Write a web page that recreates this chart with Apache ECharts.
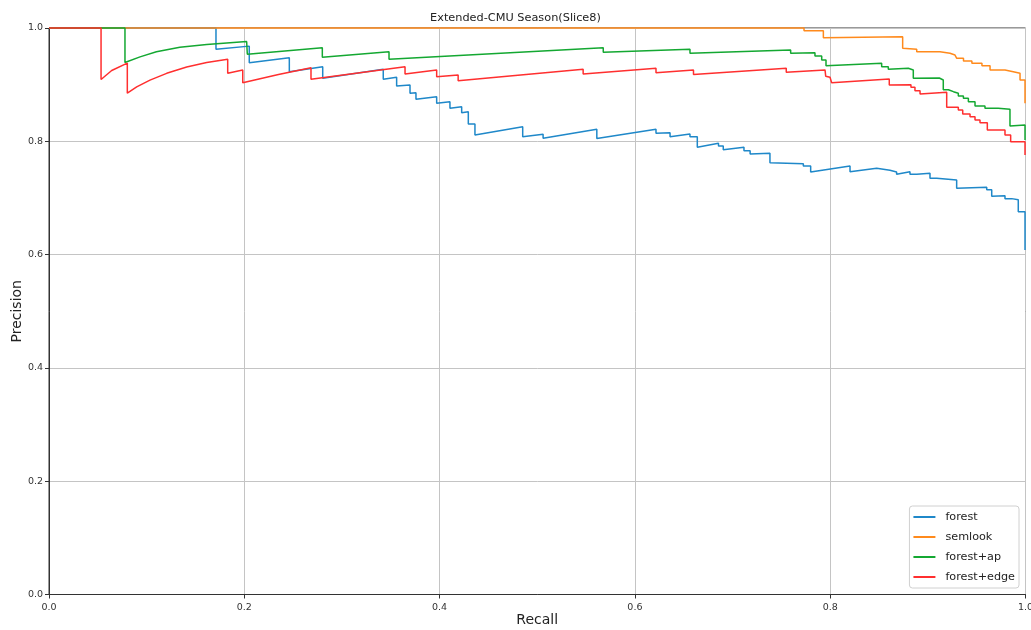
<!DOCTYPE html>
<html>
<head>
<meta charset="utf-8">
<script src="https://cdn.jsdelivr.net/npm/echarts@6/dist/echarts.min.js"></script>
<style>
html,body{margin:0;padding:0;background:#fff;}
#chart{width:1031px;height:630px;}
</style>
</head>
<body>
<div id="chart"></div>
<script>
// ---- data (recall, precision) ----
const titleText = 'Extended-CMU Season(Slice8)';
const seriesNames = ['forest', 'semlook', 'forest+ap', 'forest+edge'];
const tickValues = [0, 0.2, 0.4, 0.6, 0.8, 1.0];

const forestPts = [
  [0,1],[0.171,1],[0.171,0.9624],[0.2051,0.968],[0.2051,0.9388],[0.2461,0.9476],[0.2461,0.9229],
  [0.2803,0.9317],[0.2803,0.9112],[0.3423,0.9271],[0.3423,0.9094],[0.356,0.913],[0.356,0.8976],
  [0.3697,0.8994],[0.3697,0.8847],[0.3758,0.8858],[0.3758,0.8741],[0.397,0.8787],[0.397,0.8671],
  [0.4106,0.8699],[0.4106,0.8583],[0.4226,0.8611],[0.4226,0.8505],[0.4294,0.8522],[0.4294,0.8305],
  [0.4362,0.8305],[0.4362,0.8111],[0.4851,0.8258],[0.4851,0.8082],[0.506,0.8124],[0.506,0.8055],
  [0.561,0.8211],[0.561,0.8049],[0.6216,0.8211],[0.6216,0.8141],[0.636,0.8153],[0.636,0.8082],
  [0.6564,0.8129],[0.6564,0.8082],[0.6639,0.8082],[0.6639,0.7894],[0.6856,0.7966],[0.6856,0.7917],
  [0.6905,0.7917],[0.6905,0.785],[0.7117,0.7897],[0.7117,0.7834],[0.718,0.7834],[0.718,0.7776],
  [0.7383,0.779],[0.7383,0.7622],[0.7725,0.7605],[0.7725,0.7564],[0.78,0.7564],[0.78,0.7458],
  [0.8203,0.7564],[0.8203,0.7464],[0.8476,0.7523],[0.8476,0.7488],[0.8612,0.7488],[0.8612,0.7458],
  [0.868,0.7458],[0.868,0.7417],[0.8817,0.7464],[0.8817,0.7417],[0.8886,0.7417],[0.8886,0.7388],
  [0.9022,0.7435],[0.9022,0.7347],[0.9091,0.7347],[0.9091,0.7317],[0.9295,0.7317],[0.9295,0.717],
  [0.9603,0.7188],[0.9603,0.7146],[0.9654,0.7146],[0.9654,0.7031],[0.979,0.7041],[0.979,0.6988],
  [0.9859,0.6988],[0.9859,0.6969],[0.9926,0.6969],[0.9926,0.6757],[0.9995,0.6757],[0.9995,0.6081]
];

const semlookPts = [
  [0,1],[0.7732,1],[0.7732,0.995],[0.793,0.995],[0.793,0.983],[0.8742,0.9847],[0.8742,0.9642],
  [0.8886,0.9624],[0.8886,0.9582],[0.9124,0.9582],[0.9124,0.9553],[0.9227,0.9553],[0.9227,0.9523],
  [0.9278,0.9523],[0.9278,0.9493],[0.9296,0.9493],[0.9296,0.9465],[0.9365,0.9465],[0.9365,0.9417],
  [0.9451,0.9417],[0.9451,0.9376],[0.9554,0.9376],[0.9554,0.9335],[0.9637,0.9335],[0.9637,0.9259],
  [0.979,0.9259],[0.979,0.9229],[0.9875,0.9229],[0.9875,0.92],[0.9944,0.92],[0.9944,0.9082],
  [0.9995,0.9082],[0.9995,0.8671]
];

const forestApPts = [
  [0,1],[0.0778,1],[0.0778,0.939],[0.0932,0.949],[0.110,0.958],[0.134,0.966],[0.1615,0.971],
  [0.182,0.9735],[0.2024,0.976],[0.2031,0.9536],[0.2799,0.965],[0.2799,0.9483],[0.3482,0.9582],
  [0.3482,0.9447],[0.5676,0.9653],[0.5676,0.957],[0.6564,0.9624],[0.6564,0.9555],[0.7595,0.9612],
  [0.7595,0.9553],[0.7844,0.9565],[0.7844,0.9506],[0.7913,0.9506],[0.7913,0.9435],[0.7957,0.9435],
  [0.7957,0.9335],[0.8527,0.9377],[0.8527,0.9317],[0.8595,0.9317],[0.8595,0.927],[0.88,0.9288],
  [0.88,0.9259],[0.8851,0.9259],[0.8851,0.9112],[0.9117,0.9117],[0.9117,0.9082],[0.9158,0.9082],
  [0.9158,0.8911],[0.921,0.8911],[0.921,0.8876],[0.9262,0.8876],[0.9262,0.8847],[0.9312,0.8847],
  [0.9312,0.8799],[0.9364,0.8799],[0.9364,0.8758],[0.9415,0.8758],[0.9415,0.8699],[0.9483,0.8699],
  [0.9483,0.8623],[0.9585,0.8623],[0.9585,0.8582],[0.972,0.8582],[0.972,0.8564],[0.9841,0.8564],
  [0.9841,0.827],[0.9995,0.8288],[0.9995,0.8023]
];

const forestEdgePts = [
  [0,1],[0.0533,1],[0.0533,0.909],[0.0642,0.925],[0.0802,0.938],[0.0802,0.885],[0.0898,0.896],
  [0.1034,0.908],[0.1205,0.920],[0.141,0.931],[0.1615,0.939],[0.183,0.9447],[0.183,0.920],
  [0.1984,0.9259],[0.1984,0.9034],[0.235,0.918],[0.2683,0.930],[0.2683,0.9094],[0.3646,0.9318],
  [0.3646,0.9188],[0.397,0.926],[0.397,0.914],[0.419,0.917],[0.419,0.907],[0.547,0.927],
  [0.547,0.919],[0.6216,0.929],[0.6216,0.921],[0.660,0.926],[0.660,0.918],[0.755,0.929],
  [0.755,0.922],[0.7947,0.926],[0.7954,0.915],[0.7998,0.913],[0.8015,0.9035],[0.8605,0.910],
  [0.8605,0.8994],[0.8827,0.900],[0.8827,0.8953],[0.8868,0.8953],[0.8868,0.8893],[0.892,0.8893],
  [0.892,0.8835],[0.9193,0.8865],[0.9193,0.860],[0.9312,0.860],[0.9312,0.8553],[0.9357,0.8553],
  [0.9357,0.8482],[0.9432,0.8482],[0.9432,0.8434],[0.9483,0.8434],[0.9483,0.8376],[0.9534,0.8376],
  [0.9534,0.8329],[0.9609,0.8329],[0.9609,0.8199],[0.979,0.8199],[0.979,0.8111],[0.9848,0.8111],
  [0.9848,0.7993],[0.9995,0.7993],[0.9995,0.776]
];

const seriesColors = ['#1f88c9', '#ff8a1c', '#14a832', '#ff2f2f'];
const allPts = [forestPts, semlookPts, forestApPts, forestEdgePts];

const FONT = 'DejaVu Sans';
const chart = echarts.init(document.getElementById('chart'), null, {renderer: 'canvas'});

const axisCommon = {
  type: 'value', min: 0, max: 1, interval: 0.2,
  axisLine: {show: true, lineStyle: {color: '#333', width: 1}},
  axisTick: {show: true, inside: false, length: 4, lineStyle: {color: '#333'}},
  splitLine: {show: true, lineStyle: {color: '#c4c4c4', width: 1}},
  axisLabel: {fontFamily: FONT, fontSize: 9.5, color: '#333', formatter: v => v.toFixed(1)},
  nameLocation: 'middle',
  nameMoveOverlap: false,
  nameTextStyle: {fontFamily: FONT, fontSize: 14, color: '#222'}
};

chart.setOption({
  animation: false,
  backgroundColor: '#fff',
  title: {
    text: titleText, left: 'center', top: 8,
    textStyle: {fontFamily: FONT, fontSize: 11.3, fontWeight: 'normal', color: '#222'}
  },
  grid: {left: 49, right: 5.5, top: 28, bottom: 35.5, show: true, borderColor: '#333', borderWidth: 1,
    backgroundColor: 'transparent', containLabel: false, outerBoundsMode: 'none'},
  xAxis: Object.assign({}, axisCommon, {name: 'Recall', nameGap: 19,
    axisLabel: Object.assign({}, axisCommon.axisLabel, {margin: 8})}),
  yAxis: Object.assign({}, axisCommon, {name: 'Precision', nameGap: 25,
    axisLabel: Object.assign({}, axisCommon.axisLabel, {margin: 6})}),
  legend: {
    orient: 'vertical', right: 12, bottom: 42,
    data: seriesNames,
    icon: 'rect', itemWidth: 22, itemHeight: 2, itemGap: 6,
    padding: [4, 4, 4, 4],
    backgroundColor: '#fff', borderColor: '#d0d0d0', borderWidth: 1, borderRadius: 3,
    textStyle: {fontFamily: FONT, fontSize: 11.2, color: '#222', lineHeight: 14, padding: [0, 0, 0, 5]}
  },
  series: seriesNames.map((n, i) => ({
    name: n, type: 'line', data: allPts[i], showSymbol: false, symbol: 'none',
    clip: false, color: seriesColors[i],
    lineStyle: {color: seriesColors[i], width: 1.5}
  }))
});
</script>
</body>
</html>
